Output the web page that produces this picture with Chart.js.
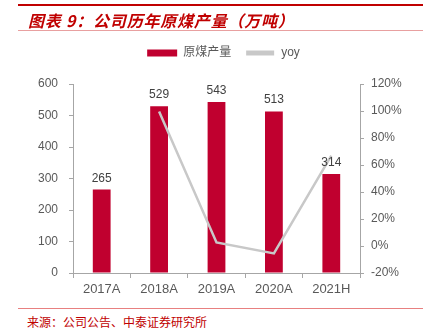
<!DOCTYPE html>
<html>
<head>
<meta charset="utf-8">
<script src="https://cdn.jsdelivr.net/npm/chart.js@4"></script>
<style>
  html, body { margin: 0; padding: 0; background: #fff; }
  #wrap { position: relative; width: 426px; height: 331px; overflow: hidden; }
  #chart { position: absolute; left: 0; top: 0; }
  .rule { position: absolute; left: 18px; width: 405px; }
  #topRule { top: 4px; height: 2px; background: #c00000; }
  #titleRule { top: 30px; height: 1px; background: #e8a0a0; }
  #footRule { top: 308px; height: 1px; background: #e88080; }
  #title {
    position: absolute; left: 28px; top: 9px;
    font: italic bold 16px 'Noto Sans CJK SC', sans-serif;
    letter-spacing: 0.8px;
    color: #c00000; line-height: 22px; white-space: nowrap;
  }
  #source {
    position: absolute; left: 27px; top: 314px;
    font: 12px 'Noto Sans CJK SC', sans-serif;
    color: #c00000; line-height: 16px; white-space: nowrap;
  }
</style>
</head>
<body>
<div id="wrap">
  <canvas id="chart" width="426" height="300"></canvas>
  <div id="topRule" class="rule"></div>
  <div id="title">图表 9：公司历年原煤产量（万吨）</div>
  <div id="titleRule" class="rule"></div>
  <div id="footRule" class="rule"></div>
  <div id="source">来源：公司公告、中泰证券研究所</div>
</div>
<script>
const years = ['2017A', '2018A', '2019A', '2020A', '2021H'];
const output = [265, 529, 543, 513, 314];
const yoy = [null, 99.6, 2.6, -5.5, 67];

const RED = '#c0002f';
const GREY_LINE = '#c8c8c8';
const AXIS = '#a6a6a6';
const TEXT = '#595959';
const FONT = "'Liberation Sans', Arial, 'Noto Sans CJK SC', sans-serif";

// value labels above the bars
const barLabels = {
  id: 'barLabels',
  afterDatasetsDraw(chart) {
    const { ctx } = chart;
    const meta = chart.getDatasetMeta(0);
    ctx.save();
    ctx.font = `12px ${FONT}`;
    ctx.fillStyle = '#404040';
    ctx.textAlign = 'center';
    ctx.textBaseline = 'alphabetic';
    meta.data.forEach((bar, i) => {
      ctx.fillText(String(output[i]), bar.x, bar.y - 8);
    });
    ctx.restore();
  },
};

// leave a gap between the legend and the plot
const legendGap = {
  id: 'legendGap',
  beforeInit(chart) {
    const fit = chart.legend.fit;
    chart.legend.fit = function () {
      fit.call(this);
      this.height = 51;
    };
  },
};

const defaultLabels = Chart.defaults.plugins.legend.labels.generateLabels;

new Chart(document.getElementById('chart'), {
  data: {
    labels: years,
    datasets: [{
      type: 'bar',
      label: '原煤产量',
      data: output,
      backgroundColor: RED,
      barPercentage: 0.31,
      categoryPercentage: 1,
      yAxisID: 'y',
      order: 1,
    }, {
      type: 'line',
      label: 'yoy',
      data: yoy,
      borderColor: GREY_LINE,
      backgroundColor: GREY_LINE,
      borderWidth: 2.5,
      pointRadius: 0,
      tension: 0,
      yAxisID: 'y1',
      order: 0,
    }],
  },
  options: {
    responsive: false,
    animation: false,
    devicePixelRatio: 1,
    layout: { padding: { top: 33, left: 21, right: 0, bottom: 0 } },
    plugins: {
      tooltip: { enabled: false },
      legend: {
        position: 'top',
        labels: {
          boxWidth: 30,
          boxHeight: 7,
          padding: 14,
          color: TEXT,
          font: { size: 12, family: FONT },
          sort: (a, b) => a.datasetIndex - b.datasetIndex,
          generateLabels(chart) {
            return defaultLabels(chart).map((item) => {
              if (item.datasetIndex === 1) {
                item.fillStyle = GREY_LINE;
                item.strokeStyle = '#fff';
                item.lineWidth = 2;
              } else {
                item.lineWidth = 0;
              }
              return item;
            });
          },
        },
      },
    },
    scales: {
      x: {
        grid: { offset: true, drawOnChartArea: false, tickLength: 5, color: AXIS },
        border: { color: AXIS },
        ticks: { color: TEXT, font: { size: 13, family: FONT }, padding: 4 },
        afterFit(scale) { scale.height = 27; },
      },
      y: {
        position: 'left',
        min: 0,
        max: 600,
        grid: { drawOnChartArea: false, tickLength: 4, color: AXIS },
        border: { color: AXIS },
        ticks: { stepSize: 100, color: TEXT, font: { size: 12, family: FONT }, padding: 11 },
        afterFit(scale) { scale.width = 52; },
      },
      y1: {
        position: 'right',
        min: -20,
        max: 120,
        grid: { drawOnChartArea: false, tickLength: 4, color: AXIS },
        border: { color: AXIS },
        ticks: {
          stepSize: 20,
          color: TEXT,
          font: { size: 12, family: FONT },
          padding: 7,
          callback: (v) => `${v}%`,
        },
        afterFit(scale) { scale.width = 66; },
      },
    },
  },
  plugins: [barLabels, legendGap],
});
</script>
</body>
</html>
